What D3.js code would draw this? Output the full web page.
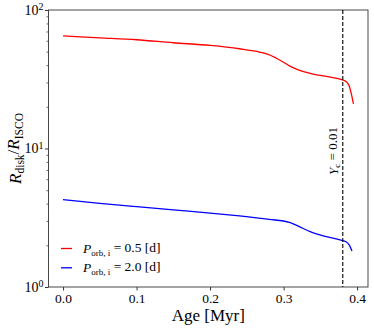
<!DOCTYPE html>
<html>
<head>
<meta charset="utf-8">
<script src="https://cdn.jsdelivr.net/npm/d3@7"></script>
<style>
body{margin:0;background:#fff;}
</style>
</head>
<body>
<div id="chart"></div>
<script>
const WIDTH = 374;
const HEIGHT = 329;
const FONT = "'Liberation Serif', 'Times New Roman', Times, serif";

// data
const redAge   = [0.0, 0.05, 0.1, 0.15, 0.2, 0.24, 0.265, 0.278, 0.288, 0.298, 0.308, 0.32, 0.34, 0.36, 0.378, 0.385, 0.389, 0.392, 0.395];
const redVal   = [65, 63, 61, 58, 55.5, 52.5, 50, 48, 45.5, 42.5, 39.5, 37, 34.5, 33, 31.5, 30.5, 28.5, 25, 21];
const blueAge  = [0.0, 0.05, 0.1, 0.15, 0.2, 0.24, 0.28, 0.308, 0.32, 0.337, 0.355, 0.378, 0.385, 0.389, 0.393];
const blueVal  = [4.27, 4.02, 3.8, 3.6, 3.42, 3.26, 3.08, 2.93, 2.75, 2.5, 2.33, 2.18, 2.12, 2.02, 1.82];
const seriesNames = ["0.5", "2.0"];
const seriesColors = ["#ff0000", "#0000ff"];
const xTicks = [0.0, 0.1, 0.2, 0.3, 0.4];
const yMajor = [1, 10, 100];
const yMinor = [2,3,4,5,6,7,8,9,20,30,40,50,60,70,80,90];
const ycAge = 0.3805;

function setup(){
    let margin = {left:48.5, right:6, top:10, bottom:42};
    let svg = d3.select("#chart")
        .append("svg")
        .attr("width",WIDTH)
        .attr("height",HEIGHT);

    let x = d3.scaleLinear()
        .domain([-0.0198, 0.4148])
        .range([margin.left, WIDTH-margin.right]);
    let y = d3.scaleLog()
        .domain([1,100])
        .range([HEIGHT-margin.bottom, margin.top]);

    // x axis
    let xAxis = svg.append("g")
        .attr("transform",`translate(0,${HEIGHT-margin.bottom})`)
        .call(d3.axisBottom(x).tickValues(xTicks).tickSize(3.5).tickPadding(3).tickFormat(d3.format(".1f")));
    xAxis.select(".domain").remove();
    xAxis.selectAll("text").style("font-size","13.5px");
    xAxis.selectAll("line").attr("stroke","#000").attr("stroke-width",0.8);

    // y axis, major + minor
    let yAxis = svg.append("g")
        .attr("transform",`translate(${margin.left},0)`)
        .call(d3.axisLeft(y).tickValues(yMajor).tickSize(3.5).tickPadding(3).tickFormat(""));
    yAxis.select(".domain").remove();
    yAxis.selectAll("line").attr("stroke","#000").attr("stroke-width",0.8);
    yAxis.selectAll(".tick text").each(function(d){
        let t = d3.select(this).style("font-size","14px").attr("x",-5);
        t.append("tspan").text("10");
        t.append("tspan").attr("dy","-0.45em").style("font-size","10px").text(Math.round(Math.log10(d)));
    });
    let yMinorAxis = svg.append("g")
        .attr("transform",`translate(${margin.left},0)`)
        .call(d3.axisLeft(y).tickValues(yMinor).tickSize(2).tickFormat(""));
    yMinorAxis.select(".domain").remove();
    yMinorAxis.selectAll("line").attr("stroke","#000").attr("stroke-width",0.6);

    // frame
    svg.append("rect")
        .attr("x",margin.left)
        .attr("y",margin.top)
        .attr("width",WIDTH-margin.right-margin.left)
        .attr("height",HEIGHT-margin.bottom-margin.top)
        .attr("fill","none")
        .attr("stroke","#333")
        .attr("stroke-width",0.9);

    // lines
    let line = d3.line()
        .x(d=>x(d[0]))
        .y(d=>y(d[1]))
        .curve(d3.curveMonotoneX);
    let series = [d3.zip(redAge,redVal), d3.zip(blueAge,blueVal)];
    svg.selectAll(".series")
        .data(series)
        .enter()
        .append("path")
        .attr("class","series")
        .attr("d",line)
        .attr("fill","none")
        .attr("stroke",(d,i)=>seriesColors[i])
        .attr("stroke-width",1.3);

    // Yc line
    svg.append("line")
        .attr("x1",x(ycAge)).attr("x2",x(ycAge))
        .attr("y1",margin.top).attr("y2",HEIGHT-margin.bottom)
        .attr("stroke","#000")
        .attr("stroke-width",1.1)
        .attr("stroke-dasharray","4,2");
    let yc = svg.append("text")
        .attr("transform",`translate(${x(ycAge)-5},151) rotate(-90)`)
        .attr("text-anchor","middle")
        .style("font-size","13px");
    yc.append("tspan").style("font-style","italic").text("Y");
    yc.append("tspan").attr("dy","0.3em").style("font-size","9px").text("c");
    yc.append("tspan").attr("dy","-0.3em").text(" = 0.01");

    // legend
    seriesNames.forEach((name,i)=>{
        let ly = 248.5 + i*19.3;
        svg.append("line")
            .attr("x1",61).attr("x2",72)
            .attr("y1",ly).attr("y2",ly)
            .attr("stroke",seriesColors[i])
            .attr("stroke-width",1.3);
        let t = svg.append("text")
            .attr("x",83)
            .attr("y",ly+4.5)
            .style("font-size","13.5px");
        t.append("tspan").style("font-style","italic").text("P");
        t.append("tspan").attr("dy","0.3em").style("font-size","9px").text("orb, i");
        t.append("tspan").attr("dy","-0.3em").text(` = ${name} [d]`);
    });

    // axis labels
    svg.append("text")
        .attr("x",(margin.left+WIDTH-margin.right)/2)
        .attr("y",321)
        .attr("text-anchor","middle")
        .style("font-size","17px")
        .text("Age [Myr]");
    let yl = svg.append("text")
        .attr("transform",`translate(21,${(margin.top+HEIGHT-margin.bottom)/2}) rotate(-90)`)
        .attr("text-anchor","middle")
        .style("font-size","17px");
    yl.append("tspan").style("font-style","italic").text("R");
    yl.append("tspan").attr("dy","0.3em").style("font-size","11.5px").text("disk");
    yl.append("tspan").attr("dy","-0.3em").text("/");
    yl.append("tspan").style("font-style","italic").text("R");
    yl.append("tspan").attr("dy","0.3em").style("font-size","11.5px").text("ISCO");

    svg.selectAll("text").attr("font-family",null).style("font-family",FONT).style("fill","#000");
    svg.selectAll("g").attr("font-family",null);
}

window.addEventListener("load",setup);
</script>
</body>
</html>
